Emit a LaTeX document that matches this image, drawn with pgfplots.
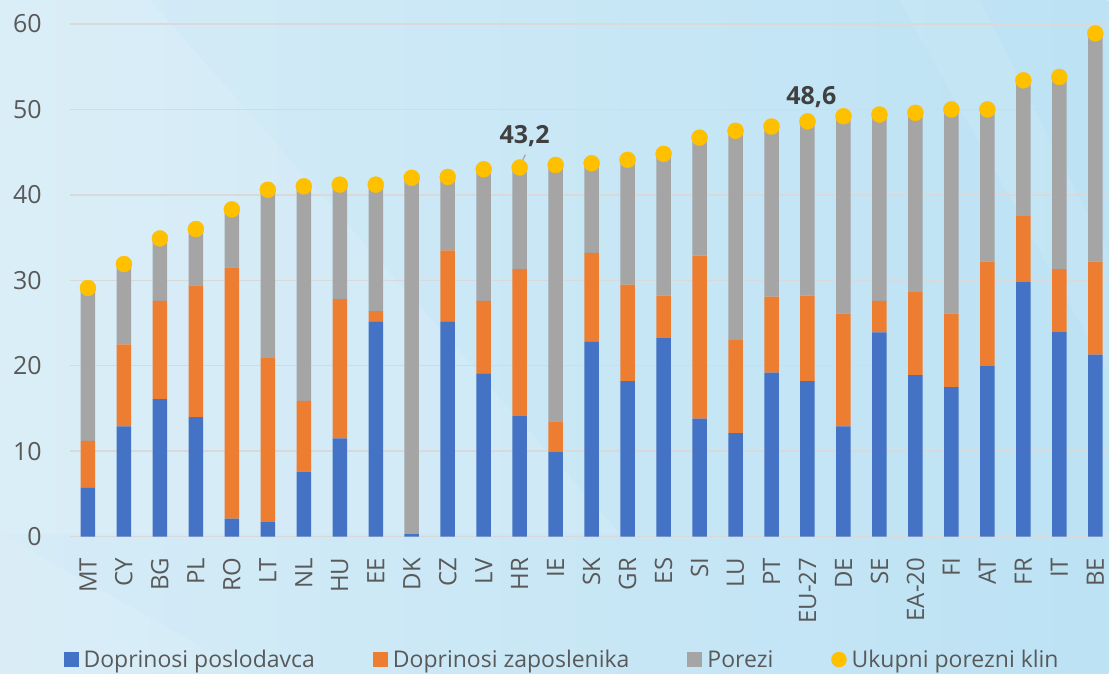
\documentclass[border=0pt]{standalone}
\usepackage{pgfplots}
\pgfplotsset{compat=1.18}
\usepackage{pgfplotstable}
\usepackage{fontspec}
\setmainfont{Open Sans}
\definecolor{cblue}{HTML}{4472C4}
\definecolor{corange}{HTML}{ED7D31}
\definecolor{cgray}{HTML}{A5A5A5}
\definecolor{cyel}{HTML}{FFC000}
\definecolor{bgL}{HTML}{D6ECF7}
\definecolor{bgR}{HTML}{BCE2F4}
\definecolor{gridc}{HTML}{D9D9D9}
\definecolor{txt}{HTML}{595959}
\definecolor{lab}{HTML}{404040}

\pgfplotstableread{
x b o g t
0 5.7 5.5 17.9 29.1
1 12.9 9.6 9.4 31.9
2 16.1 11.5 7.3 34.9
3 14.0 15.4 6.6 36.0
4 2.1 29.4 6.8 38.3
5 1.7 19.2 19.7 40.6
6 7.6 8.3 25.1 41.0
7 11.5 16.3 13.4 41.2
8 25.2 1.2 14.8 41.2
9 0.3 0.0 41.7 42.0
10 25.2 8.3 8.6 42.1
11 19.1 8.5 15.4 43.0
12 14.1 17.2 11.9 43.2
13 9.9 3.6 30.0 43.5
14 22.8 10.4 10.5 43.7
15 18.2 11.3 14.6 44.1
16 23.3 4.9 16.6 44.8
17 13.8 19.1 13.8 46.7
18 12.1 10.9 24.5 47.5
19 19.2 8.9 19.9 48.0
20 18.2 10.0 20.4 48.6
21 12.9 13.2 23.1 49.2
22 23.9 3.7 21.8 49.4
23 18.9 9.8 20.9 49.6
24 17.5 8.6 23.9 50.0
25 20.0 12.2 17.8 50.0
26 29.8 7.8 15.8 53.4
27 24.0 7.3 22.5 53.8
28 21.3 10.9 26.7 58.9
}\data

\pgfplotsset{
  common/.style={
    at={(70pt,137pt)}, anchor=south west, scale only axis,
    width=1039pt, height=513pt,
    xmin=-0.5, xmax=28.36, ymin=0, ymax=60,
  }
}

\begin{document}
\begin{tikzpicture}
\shade[left color=bgL, right color=bgR] (0,0) rectangle (1109pt,674pt);
\fill[white, opacity=0.12] (0,674pt) -- (150pt,674pt) -- (620pt,140pt) -- (0,140pt) -- cycle;
\fill[white, opacity=0.10] (0,0) -- (0,140pt) -- (250pt,0) -- cycle;
\fill[white, opacity=0.08] (900pt,674pt) -- (980pt,674pt) -- (1109pt,420pt) -- (1109pt,300pt) -- cycle;

\begin{axis}[common,
  ybar stacked, bar width=14.5pt,
  axis line style={draw=none},
  tick style={draw=none},
  ymajorgrids, grid style={line width=1.5pt, color=gridc},
  ytick={0,10,...,60},
  xtick={0,...,28},
  xticklabels={MT,CY,BG,PL,RO,LT,NL,HU,EE,DK,CZ,LV,HR,IE,SK,GR,ES,SI,LU,PT,EU-27,DE,SE,EA-20,FI,AT,FR,IT,BE},
  /pgf/number format/assume math mode=true,
  yticklabel style={font=\fontsize{25}{25}\selectfont, text=txt, inner sep=0pt, anchor=east, xshift=-28pt},
  xticklabel style={font=\fontsize{24}{24}\selectfont, text=txt, inner sep=0pt, rotate=90, anchor=east, xshift=-21pt},
  legend style={at={(0.4730,-0.2398)}, anchor=center, draw=none, fill=none,
    font=\fontsize{23}{23}\selectfont, text=txt, legend columns=4,
    /tikz/every odd column/.append style={column sep=5pt},
    /tikz/every even column/.append style={column sep=58pt},
    nodes={inner sep=0pt}},
]
\addplot[fill=cblue, draw=none, legend image code/.code={\fill[cblue] (0pt,-7.5pt) rectangle (15pt,7.5pt);}] table[x=x,y=b] {\data};
\addlegendentry{Doprinosi poslodavca}
\addplot[fill=corange, draw=none, legend image code/.code={\fill[corange] (0pt,-7.5pt) rectangle (15pt,7.5pt);}] table[x=x,y=o] {\data};
\addlegendentry{Doprinosi zaposlenika}
\addplot[fill=cgray, draw=none, legend image code/.code={\fill[cgray] (0pt,-7.5pt) rectangle (15pt,7.5pt);}] table[x=x,y=g] {\data};
\addlegendentry{Porezi}
\addlegendimage{legend image code/.code={\fill[cyel] (7.5pt,0pt) circle (7.5pt);}}
\addlegendentry{Ukupni porezni klin}
\end{axis}

\begin{axis}[common, hide axis, clip=false]
\addplot[only marks, mark=*, mark size=8pt, color=cyel, mark options={draw=none, fill=cyel}] table[x=x,y=t] {\data};
\draw[cgray, line width=1.2pt] (axis cs:12.16,44.7) -- (axis cs:12.0,43.4);
\node[font=\fontsize{25}{25}\selectfont\bfseries, text=lab] at (axis cs:12.14,46.9) {43,2};
\node[font=\fontsize{25}{25}\selectfont\bfseries, text=lab] at (axis cs:20.11,51.5) {48,6};
\end{axis}
\end{tikzpicture}
\end{document}
